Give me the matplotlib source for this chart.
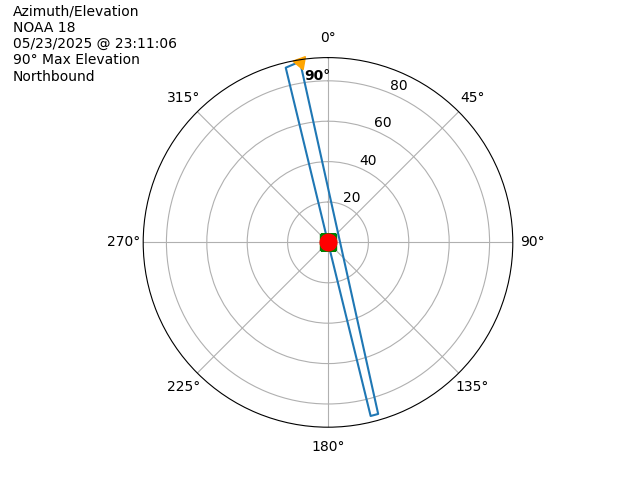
import numpy as np
import matplotlib
matplotlib.use("Agg")
import matplotlib.pyplot as plt

# pass info
sat_name = "NOAA 18"
pass_time = "05/23/2025 @ 23:11:06"
max_elev = 90
direction = "Northbound"

# azimuth (deg) / elevation (deg) samples of the pass
az = [166.2, 166.2, 166.2, 166.2, 166.2, 166.2, 166.2, 163.7, 351.2, 346.4, 346.4, 346.4, 346.4, 346.4, 346.4]
el = [0.0, 10.0, 25.0, 45.0, 65.0, 80.0, 88.5, 88.5, 90.6, 89.0, 80.0, 60.0, 40.0, 20.0, 0.0]

theta = np.radians(az)
i_max = int(np.argmax(el))

fig = plt.figure(figsize=(6.4, 4.8), dpi=100)
ax = fig.add_subplot(111, projection="polar")
ax.set_theta_zero_location("N")
ax.set_theta_direction(-1)

ax.plot(theta, el, color="tab:blue", lw=1.5)
ax.plot(theta[0], el[0], "s", color="green", ms=12)   # start
ax.plot(theta[-1], el[-1], "o", color="red", ms=12)   # end

# direction marker at max elevation (triangle pointing up-right)
ax.plot(theta[i_max], el[i_max], marker=(3, 0, -40), color="orange", ms=11, clip_on=False)
ax.annotate(f"{max_elev}°", xy=(theta[i_max], el[i_max]), xytext=(3, -13),
            textcoords="offset points", fontweight="bold", fontsize=10)

ax.set_ylim(0, 91.5)
ax.set_yticks([20, 40, 60, 80])

fig.text(0.02, 0.99, f"Azimuth/Elevation\n{sat_name}\n{pass_time}\n{max_elev}° Max Elevation\n{direction}",
         ha="left", va="top", fontsize=10)

fig.savefig("out.png", dpi=100)
